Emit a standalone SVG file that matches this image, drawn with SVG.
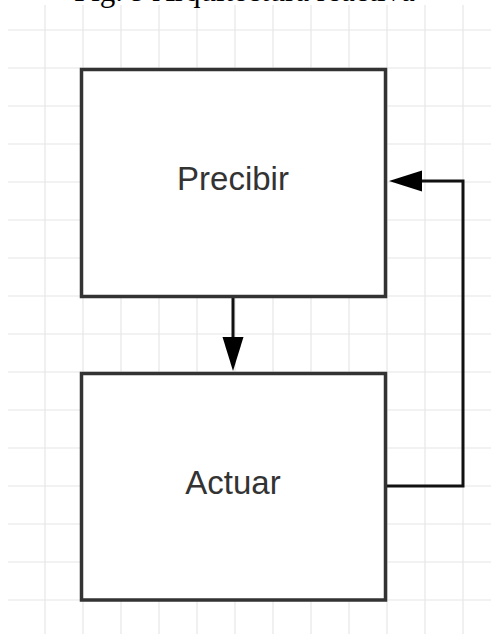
<svg xmlns="http://www.w3.org/2000/svg" width="491" height="634" viewBox="0 0 491 634">
  <style>
    .grid line { stroke: #e6e6e6; stroke-width: 1.2; }
    .box { fill: #ffffff; stroke: #333333; stroke-width: 3.5; }
    .label { font-family: "Liberation Sans", Arial, sans-serif; font-size: 33px; fill: #333333; text-anchor: middle; }
    .conn { fill: none; stroke: #111111; stroke-width: 3; }
    .head { fill: #000000; stroke: none; }
    .title { font-family: "Liberation Serif", "Times New Roman", serif; font-size: 31px; fill: #000000; }
  </style>
  <rect x="0" y="0" width="491" height="634" fill="#ffffff"/>
  <g id="grid" class="grid">
    <line x1="45" y1="5" x2="45" y2="634"/>
    <line x1="83" y1="5" x2="83" y2="634"/>
    <line x1="121" y1="5" x2="121" y2="634"/>
    <line x1="159" y1="5" x2="159" y2="634"/>
    <line x1="197" y1="5" x2="197" y2="634"/>
    <line x1="235" y1="5" x2="235" y2="634"/>
    <line x1="273" y1="5" x2="273" y2="634"/>
    <line x1="311" y1="5" x2="311" y2="634"/>
    <line x1="349" y1="5" x2="349" y2="634"/>
    <line x1="387" y1="5" x2="387" y2="634"/>
    <line x1="425" y1="5" x2="425" y2="634"/>
    <line x1="463" y1="5" x2="463" y2="634"/>
    <line x1="8" y1="30" x2="491" y2="30"/>
    <line x1="8" y1="68" x2="491" y2="68"/>
    <line x1="8" y1="106" x2="491" y2="106"/>
    <line x1="8" y1="144" x2="491" y2="144"/>
    <line x1="8" y1="182" x2="491" y2="182"/>
    <line x1="8" y1="220" x2="491" y2="220"/>
    <line x1="8" y1="258" x2="491" y2="258"/>
    <line x1="8" y1="296" x2="491" y2="296"/>
    <line x1="8" y1="334" x2="491" y2="334"/>
    <line x1="8" y1="372" x2="491" y2="372"/>
    <line x1="8" y1="410" x2="491" y2="410"/>
    <line x1="8" y1="448" x2="491" y2="448"/>
    <line x1="8" y1="486" x2="491" y2="486"/>
    <line x1="8" y1="524" x2="491" y2="524"/>
    <line x1="8" y1="562" x2="491" y2="562"/>
    <line x1="8" y1="600" x2="491" y2="600"/>
  </g>
  <text class="title" x="74" y="1">Fig. 9 Arquitectura reactiva</text>
  <g id="connectors">
    <line class="conn" x1="233" y1="298" x2="233" y2="340"/>
    <polygon class="head" points="222.5,337 243.5,337 233,371"/>
    <polyline class="conn" points="387,486 463,486 463,181 418,181"/>
    <polygon class="head" points="389,181 422,170.5 422,191.5"/>
  </g>
  <g id="node-precibir">
    <rect class="box" x="81.5" y="69.5" width="304" height="227"/>
    <text class="label" x="233" y="190">Precibir</text>
  </g>
  <g id="node-actuar">
    <rect class="box" x="81.5" y="373.5" width="304" height="226.5"/>
    <text class="label" x="233" y="494">Actuar</text>
  </g>
</svg>
